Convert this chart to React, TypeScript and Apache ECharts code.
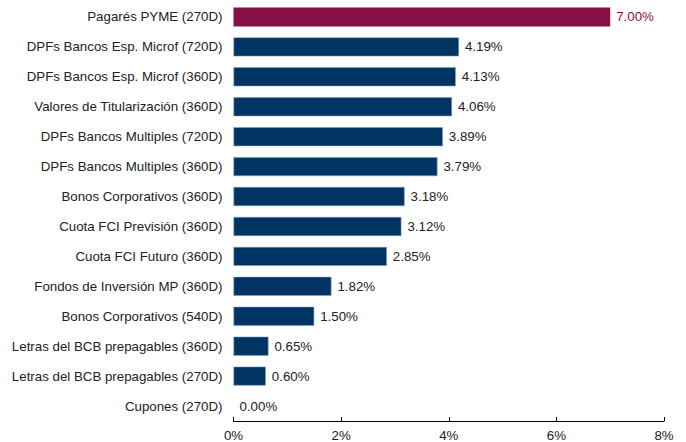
import React, { useEffect, useRef } from "react";
import * as echarts from "echarts";

const categories = [
  "Pagarés PYME (270D)",
  "DPFs Bancos Esp. Microf (720D)",
  "DPFs Bancos Esp. Microf (360D)",
  "Valores de Titularización (360D)",
  "DPFs Bancos Multiples (720D)",
  "DPFs Bancos Multiples (360D)",
  "Bonos Corporativos (360D)",
  "Cuota FCI Previsión (360D)",
  "Cuota FCI Futuro (360D)",
  "Fondos de Inversión MP (360D)",
  "Bonos Corporativos (540D)",
  "Letras del BCB prepagables (360D)",
  "Letras del BCB prepagables (270D)",
  "Cupones (270D)",
];
const values = [7.0, 4.19, 4.13, 4.06, 3.89, 3.79, 3.18, 3.12, 2.85, 1.82, 1.5, 0.65, 0.6, 0.0];
const highlightIndex = 0;

const NAVY = "#003463";
const MAROON = "#861043";
const FONT = "'Liberation Sans', Arial, sans-serif";
const FS = 13.3;

export default function App() {
  const ref = useRef<HTMLDivElement>(null);
  useEffect(() => {
    if (!ref.current) return;
    const chart = echarts.init(ref.current, undefined, { renderer: "svg" });
    chart.setOption({
      animation: false,
      textStyle: { fontFamily: FONT },
      grid: { left: 233.5, right: 22, top: 2, bottom: 20, containLabel: false },
      xAxis: {
        type: "value",
        min: 0,
        max: 8,
        interval: 2,
        axisLine: { show: true, lineStyle: { color: "#000", width: 1 } },
        axisTick: { show: true, inside: true, length: 4, lineStyle: { color: "#000" } },
        axisLabel: { formatter: "{value}%", color: "#222", fontSize: FS, fontFamily: FONT, margin: 8 },
        splitLine: { show: false },
      },
      yAxis: {
        type: "category",
        inverse: true,
        data: categories,
        axisLine: { show: false },
        axisTick: { show: false },
        axisLabel: { color: "#222", fontSize: FS, fontFamily: FONT, margin: 11 },
      },
      series: [
        {
          type: "bar",
          barWidth: 19,
          data: values.map((v, i) => ({
            value: v,
            itemStyle:
              i === highlightIndex
                ? { color: MAROON }
                : v > 0
                ? { color: NAVY, borderColor: "#7f9cc0", borderWidth: 0.6 }
                : { color: NAVY, borderWidth: 0 },
            label: { color: i === highlightIndex ? MAROON : "#222" },
          })),
          label: {
            show: true,
            position: "right",
            distance: 6,
            fontSize: FS,
            fontFamily: FONT,
            formatter: (p: any) => Number(p.value).toFixed(2) + "%",
          },
        },
      ],
    });
    return () => chart.dispose();
  }, []);
  return <div ref={ref} style={{ width: 686, height: 442, position: "absolute", left: 0, top: 0 }} />;
}
